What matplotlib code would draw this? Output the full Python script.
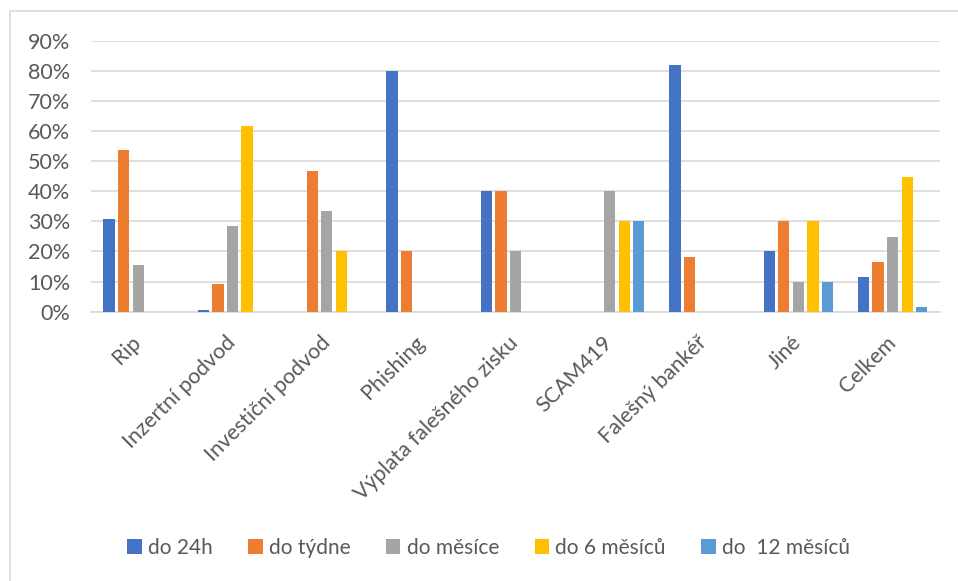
import numpy as np
import matplotlib.pyplot as plt
from matplotlib.patches import Rectangle
from matplotlib.ticker import PercentFormatter

kategorie = ['Rip', 'Inzertní podvod', 'Investiční podvod', 'Phishing',
             'Výplata falešného zisku', 'SCAM419', 'Falešný bankéř', 'Jiné', 'Celkem']
serie = ['do 24h', 'do týdne', 'do měsíce', 'do 6 měsíců', 'do  12 měsíců']
barvy = ['#4472C4', '#ED7D31', '#A5A5A5', '#FFC000', '#5B9BD5']

do_24h = [0.308, 0.006, 0.0, 0.80, 0.40, 0.0, 0.818, 0.20, 0.116]
do_tydne = [0.538, 0.092, 0.467, 0.20, 0.40, 0.0, 0.182, 0.30, 0.166]
do_mesice = [0.154, 0.283, 0.333, 0.0, 0.20, 0.40, 0.0, 0.10, 0.247]
do_6_mesicu = [0.0, 0.617, 0.20, 0.0, 0.0, 0.30, 0.0, 0.30, 0.448]
do_12_mesicu = [0.0, 0.0, 0.0, 0.0, 0.0, 0.30, 0.0, 0.10, 0.016]

data = [do_24h, do_tydne, do_mesice, do_6_mesicu, do_12_mesicu]

plt.rcParams['font.family'] = ['Lato', 'DejaVu Sans']
seda = '#595959'

fig = plt.figure(figsize=(9.58, 5.81), dpi=100)
ax = fig.add_axes([0.095, 0.4635, 0.886, 0.4665])

x = np.arange(len(kategorie))
krok = 0.154
for i, (hodnoty, nazev, barva) in enumerate(zip(data, serie, barvy)):
    ax.bar(x + (i - 2) * krok, hodnoty, width=0.12, color=barva, label=nazev, zorder=3)

ax.set_xlim(-0.5, len(kategorie) - 0.5)
ax.set_ylim(0, 0.9)
ax.set_yticks(np.arange(0, 0.91, 0.1))
ax.yaxis.set_major_formatter(PercentFormatter(1.0, decimals=0))
ax.grid(axis='y', color='#d9d9d9', linewidth=1.2, zorder=0)
ax.set_axisbelow(True)
for s in ['top', 'right', 'left']:
    ax.spines[s].set_visible(False)
ax.spines['bottom'].set_color('#d9d9d9')
ax.spines['bottom'].set_linewidth(1.2)
ax.tick_params(axis='both', length=0, colors=seda)
ax.tick_params(axis='y', labelsize=15.5, pad=15)

ax.set_xticks(x)
ax.set_xticklabels(kategorie, rotation=45, ha='right', va='center',
                   rotation_mode='anchor', fontsize=15.5)
ax.tick_params(axis='x', pad=20)

fig.legend(loc='center', bbox_to_anchor=(0.51, 0.057), ncol=5, frameon=False,
           fontsize=15, labelcolor=seda, handlelength=0.7, handleheight=0.7,
           handletextpad=0.3, columnspacing=1.7)

# rámeček kolem celého grafu
fig.patches.append(Rectangle((10 / 958, -0.1), 1.2, 1.1 - 11 / 581, transform=fig.transFigure,
                             fill=False, edgecolor='#d9d9d9', linewidth=1.2))

fig.savefig('out.png', dpi=100)
